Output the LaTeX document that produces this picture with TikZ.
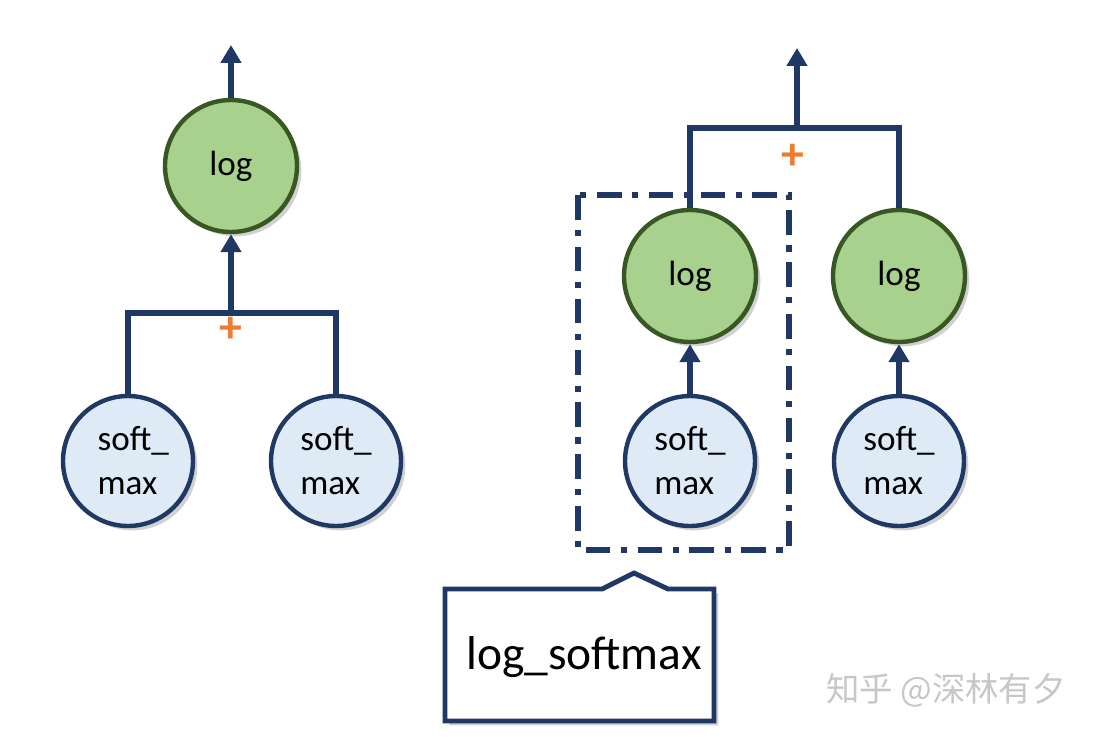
\documentclass[tikz,border=0pt]{standalone}
\usepackage{fontspec}
\setmainfont{Carlito}
\newfontfamily\cjkfont{Noto Sans CJK SC}
\usetikzlibrary{arrows.meta,shadows}
\definecolor{LinkBlue}{HTML}{203864}
\definecolor{LogGreen}{HTML}{A9D18E}
\definecolor{LogEdge}{HTML}{385723}
\definecolor{SoftBlue}{HTML}{DEEBF7}
\definecolor{PlusOrange}{HTML}{ED7D31}

\tikzset{
  softshadow/.style={drop shadow={shadow xshift=2.5pt,shadow yshift=-2.5pt,opacity=.18,fill=black}},
  lognode/.style={circle,draw=LogEdge,fill=LogGreen,line width=2.5pt,minimum size=2.64cm,inner sep=0pt,font=\fontsize{20}{24}\selectfont,softshadow},
  smnode/.style={circle,draw=LinkBlue,fill=SoftBlue,line width=2.5pt,minimum size=2.6cm,inner sep=0pt,align=left,font=\fontsize{20}{25}\selectfont,softshadow},
  link/.style={draw=LinkBlue,line width=3.3pt},
  arr/.style={link,-{Triangle[length=0.36cm,width=0.4cm]}},
  plus/.style={text=PlusOrange,font=\bfseries\fontsize{26}{26}\selectfont}
}

\begin{document}
\begin{tikzpicture}[x=0.02cm,y=-0.02cm,line join=miter]
  \useasboundingbox[fill=white] (0,0) rectangle (1093,737);

  % left tree
  \node[lognode] (logA) at (231,166) {log};
  \node[smnode] (smA) at (128,461) {\hspace*{6pt}soft\_\\\hspace*{6pt}max};
  \node[smnode] (smB) at (336,461) {soft\_\\max};
  \coordinate (sumA) at (231,313);
  \coordinate (outA) at (231,45);
  \draw[link] (smA.north) |- (sumA) -| (smB.north);
  \draw[arr] (sumA) -- (logA.south);
  \draw[arr] (logA.north) -- (outA);
  \node[plus] (plusA) at (231,330) {+};

  % right tree
  \draw[LinkBlue,line width=3pt,dash pattern=on 14pt off 6pt on 3.5pt off 6pt]
    (578,195) rectangle (789,550);
  \node[lognode] (logC) at (690,276) {log};
  \node[lognode] (logD) at (899,276) {log};
  \node[smnode] (smC) at (690,461) {soft\_\\max};
  \node[smnode] (smD) at (899,461) {soft\_\\max};
  \coordinate (sumB) at (797,128);
  \coordinate (outB) at (797,48);
  \draw[arr] (smC.north) -- (logC.south);
  \draw[arr] (smD.north) -- (logD.south);
  \draw[link] (logC.north) |- (sumB) -| (logD.north);
  \draw[arr] (sumB) -- (outB);
  \node[plus] (plusB) at (793,157) {+};

  % callout
  \draw[LinkBlue,line width=2.8pt,fill=white,softshadow]
    (445,589) -- (602,589) -- (634,573) -- (668,589) -- (714,589)
    -- (714,721) -- (445,721) -- cycle;
  \node[font=\fontsize{27}{30}\selectfont] (note) at (584,657) {log\_softmax};

  % watermark
  \node[text=black!22,font=\cjkfont\fontsize{19}{22}\selectfont] (mark) at (946,690) {知乎 @深林有夕};
\end{tikzpicture}
\end{document}
